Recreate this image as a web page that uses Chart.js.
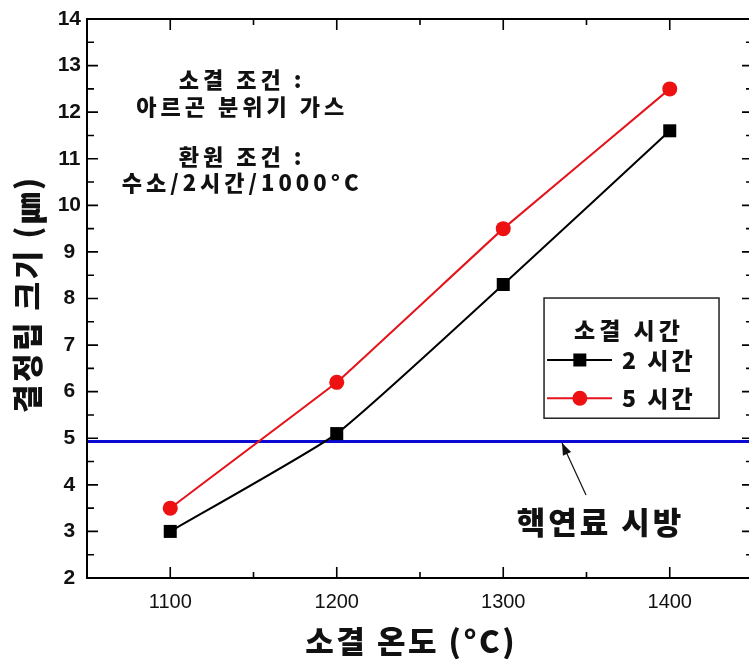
<!DOCTYPE html>
<html><head><meta charset="utf-8">
<script src="https://cdn.jsdelivr.net/npm/chart.js@4.4.1/dist/chart.umd.min.js"></script>
<style>
html,body{margin:0;padding:0;background:#fff;overflow:hidden;}
#wrap{width:749px;height:659px;overflow:hidden;position:relative;}
#c{position:absolute;left:0;top:0;}
</style></head>
<body><div id="wrap"><canvas id="c" width="765" height="659"></canvas></div>
<script>
// ---- data ----
const temperatures = [1100, 1200, 1300, 1400];
const size2h = [3.0, 5.1, 8.3, 11.6];
const size5h = [3.5, 6.2, 9.5, 12.5];
const specValue = 4.93;
const seriesLabels = ['2 시간', '5 시간'];
const legendTitle = '소결 시간';
const xTitle = '소결 온도 (°C)';
const yTitle = '결정립 크기 (㎛)';
const noteLines = ['소결 조건 :', '아르곤 분위기 가스', '환원 조건 :', '수소/2시간/1000°C'];
const specLabel = '핵연료 시방';

const FONT = "'Liberation Sans', 'Noto Sans CJK KR', sans-serif";
const KFONT = "'Noto Sans CJK KR', 'Liberation Sans', sans-serif";

const xMin = 1050, xMax = 1450;

function spaced(ctx, text, x, y, spacing) {
  ctx.letterSpacing = spacing + 'px';
  if (ctx.textAlign === 'center') x += spacing / 2;
  ctx.fillText(text, x, y);
  ctx.letterSpacing = '0px';
}

const decor = {
  id: 'decor',
  afterDraw(chart) {
    const ctx = chart.ctx, a = chart.chartArea;
    const xs = chart.scales.x, ys = chart.scales.y;
    const X = v => xs.getPixelForValue(v), Y = v => ys.getPixelForValue(v);
    ctx.save();
    // frame
    ctx.strokeStyle = '#000'; ctx.lineWidth = 2;
    ctx.strokeRect(a.left, a.top, a.right - a.left, a.bottom - a.top);
    // inward ticks
    ctx.lineWidth = 1.6;
    xs.ticks.forEach(t => {
      const v = t.value; if (v <= xMin || v >= xMax) return;
      const p = X(v), L = (v % 100 === 0) ? 11 : 6;
      ctx.beginPath();
      ctx.moveTo(p, a.bottom); ctx.lineTo(p, a.bottom - L);
      ctx.moveTo(p, a.top); ctx.lineTo(p, a.top + L);
      ctx.stroke();
    });
    ys.ticks.forEach(t => {
      const v = t.value; if (v <= 2 || v >= 14) return;
      const p = Y(v), L = (Math.abs(v - Math.round(v)) < 1e-6) ? 11 : 7;
      ctx.beginPath();
      ctx.moveTo(a.left, p); ctx.lineTo(a.left + L, p);
      ctx.moveTo(a.right, p); ctx.lineTo(a.right - L, p);
      ctx.stroke();
    });
    ctx.fillStyle = '#111';
    ctx.textAlign = 'center'; ctx.textBaseline = 'middle';
    // axis titles
    ctx.font = "900 31px " + KFONT;
    spaced(ctx, xTitle, X(1250) - 10, a.bottom + 63, 2.5);
    ctx.save();
    ctx.translate(27, Y(8) - 3);
    ctx.rotate(-Math.PI / 2);
    spaced(ctx, yTitle, 0, 0, 2.5);
    ctx.restore();
    // notes
    ctx.font = "900 22px " + KFONT;
    const noteY = [12.69, 12.11, 11.04, 10.48];
    noteLines.forEach((s, i) => spaced(ctx, s, X(1142), Y(noteY[i]), 4));
    // legend box
    const bx0 = X(1324.5), bx1 = X(1429.6), by0 = Y(8.01), by1 = Y(5.43);
    ctx.fillStyle = '#fff';
    ctx.fillRect(bx0, by0, bx1 - bx0, by1 - by0);
    ctx.strokeStyle = '#222'; ctx.lineWidth = 1.5;
    ctx.strokeRect(bx0, by0, bx1 - bx0, by1 - by0);
    ctx.fillStyle = '#111';
    ctx.font = "900 23px " + KFONT;
    spaced(ctx, legendTitle, X(1374.3), Y(7.32), 4);
    const rowY = [6.68, 5.86];
    chart.data.datasets.slice(0, 2).forEach((ds, i) => {
      const yy = Y(rowY[i]);
      ctx.strokeStyle = ds.borderColor; ctx.lineWidth = 2;
      ctx.beginPath(); ctx.moveTo(X(1326.3), yy); ctx.lineTo(X(1365.3), yy); ctx.stroke();
      ctx.fillStyle = ds.pointBackgroundColor;
      const mx = X(1346);
      if (ds.pointStyle === 'rect') {
        ctx.fillRect(mx - 6.5, yy - 6.5, 13, 13);
      } else {
        ctx.beginPath(); ctx.arc(mx, yy, 7.5, 0, Math.PI * 2); ctx.fill();
      }
      ctx.fillStyle = '#111';
      ctx.textAlign = 'left';
      ctx.font = "900 23px " + KFONT;
      spaced(ctx, seriesLabels[i], X(1371.3), yy, 3);
      ctx.textAlign = 'center';
    });
    // arrow
    const hx = X(1335.3), hy = Y(4.90), tx = X(1349.7), ty = Y(3.78);
    ctx.strokeStyle = '#111'; ctx.fillStyle = '#111'; ctx.lineWidth = 1.2;
    ctx.beginPath(); ctx.moveTo(tx, ty); ctx.lineTo(hx, hy); ctx.stroke();
    const ang = Math.atan2(hy - ty, hx - tx), hl = 12, hw = 4.5;
    ctx.beginPath();
    ctx.moveTo(hx, hy);
    ctx.lineTo(hx - hl * Math.cos(ang) + hw * Math.sin(ang), hy - hl * Math.sin(ang) - hw * Math.cos(ang));
    ctx.lineTo(hx - hl * Math.cos(ang) - hw * Math.sin(ang), hy - hl * Math.sin(ang) + hw * Math.cos(ang));
    ctx.closePath(); ctx.fill();
    // spec label
    ctx.font = "900 31px " + KFONT;
    spaced(ctx, specLabel, X(1357.5), Y(3.20), 3);
    ctx.restore();
  }
};

new Chart(document.getElementById('c'), {
  type: 'line',
  data: {
    datasets: [
      {
        label: seriesLabels[0],
        data: temperatures.map((t, i) => ({x: t, y: size2h[i]})),
        borderColor: '#000', backgroundColor: '#000', pointBackgroundColor: '#000',
        borderWidth: 2, pointStyle: 'rect', pointRadius: 9.2, pointBorderWidth: 0,
        tension: 0.15, order: 1
      },
      {
        label: seriesLabels[1],
        data: temperatures.map((t, i) => ({x: t, y: size5h[i]})),
        borderColor: '#e5131b', backgroundColor: '#e5131b', pointBackgroundColor: '#ee1111',
        borderWidth: 2, pointStyle: 'circle', pointRadius: 7.5, pointBorderWidth: 0,
        tension: 0.05, order: 0
      },
      {
        label: specLabel,
        data: [{x: xMin, y: specValue}, {x: xMax, y: specValue}],
        borderColor: '#0a0ad2', borderWidth: 3, pointRadius: 0, order: 2
      }
    ]
  },
  options: {
    responsive: false, animation: false,
    layout: {padding: {left: 0, top: 19, right: 0, bottom: 0}},
    plugins: {legend: {display: false}, tooltip: {enabled: false}},
    scales: {
      x: {
        type: 'linear', min: xMin, max: xMax,
        afterFit: s => { s.height = 81; },
        grid: {display: false, drawTicks: false},
        border: {display: false},
        ticks: {
          stepSize: 50, autoSkip: false, maxRotation: 0, padding: 12,
          color: '#111', font: {family: FONT, size: 20},
          callback: v => (v % 100 === 0 ? String(v) : '')
        },
        title: {display: false, text: xTitle}
      },
      y: {
        type: 'linear', min: 2, max: 14,
        afterFit: s => { s.width = 87; },
        grid: {display: false, drawTicks: false},
        border: {display: false},
        ticks: {
          stepSize: 0.5, autoSkip: false, padding: 6, crossAlign: 'center',
          color: '#111', font: {family: FONT, size: 21, weight: 'bold'},
          callback: v => (Number.isInteger(v) ? String(v) : '')
        },
        title: {display: false, text: yTitle}
      }
    }
  },
  plugins: [decor]
});
</script></body></html>
